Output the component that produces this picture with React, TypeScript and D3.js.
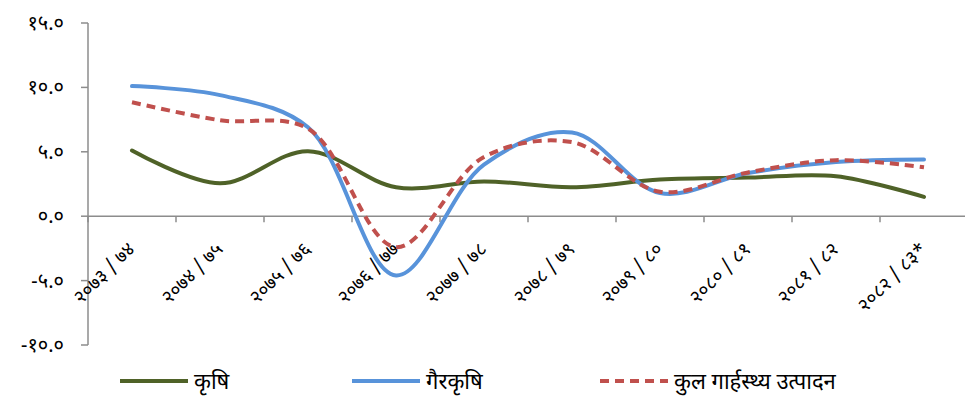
import * as d3 from "d3";

const years = [
  "२०७३ / ७४",
  "२०७४ / ७५",
  "२०७५ / ७६",
  "२०७६ / ७७",
  "२०७७ / ७८",
  "२०७८ / ७९",
  "२०७९ / ८०",
  "२०८० / ८१",
  "२०८१ / ८२",
  "२०८२ / ८३*",
];

const krishi = [5.1, 2.55, 5.05, 2.25, 2.7, 2.25, 2.85, 3.0, 3.1, 1.5];
const gairKrishi = [10.1, 9.4, 6.9, -4.6, 4.0, 6.5, 1.8, 3.35, 4.2, 4.4];
const kulGdp = [8.85, 7.45, 6.8, -2.4, 4.6, 5.75, 1.9, 3.4, 4.35, 3.8];

const yTicks = [-10, -5, 0, 5, 10, 15];
const yTickLabels = ["-१०.०", "-५.०", "०.०", "५.०", "१०.०", "१५.०"];

const series = [
  { name: "कृषि", values: krishi, color: "#4F6228", dash: "" },
  { name: "गैरकृषि", values: gairKrishi, color: "#5893DA", dash: "" },
  { name: "कुल गार्हस्थ्य उत्पादन", values: kulGdp, color: "#C0504D", dash: "9,6" },
];

const W = 965;
const H = 400;
const font = "'Noto Sans Devanagari', Mangal, Kalimati, 'Noto Sans', sans-serif";

export default function App() {
  const x = d3
    .scaleBand<string>()
    .domain(years)
    .range([88, 88 + 88 * years.length]);
  const y = d3.scaleLinear().domain([-10, 15]).range([345, 23]);

  const line = d3
    .line<number>()
    .curve(d3.curveCatmullRom.alpha(0.5))
    .x((_, i) => (x(years[i]) ?? 0) + x.bandwidth() / 2)
    .y((d) => y(d));

  const legendX = [120, 352, 600];

  return (
    <svg
      width={W}
      height={H}
      style={{ position: "absolute", left: 0, top: 0, fontFamily: font }}
    >
      <rect width={W} height={H} fill="#fff" />
      {/* y axis */}
      <line x1={88} x2={88} y1={y(15)} y2={y(-10)} stroke="#8c8c8c" strokeWidth={1.5} />
      {yTicks.map((t, i) => (
        <g key={t}>
          <line x1={81} x2={88} y1={y(t)} y2={y(t)} stroke="#8c8c8c" strokeWidth={1.5} />
          <text
            x={64}
            y={y(t)}
            dy="0.35em"
            textAnchor="end"
            fontSize={20}
            fill="#000"
          >
            {yTickLabels[i]}
          </text>
        </g>
      ))}
      {/* zero line with category ticks */}
      <line x1={88} x2={W} y1={y(0)} y2={y(0)} stroke="#8c8c8c" strokeWidth={1.5} />
      {years.map((yr) => (
        <line
          key={yr}
          x1={x(yr)}
          x2={x(yr)}
          y1={y(0)}
          y2={y(0) + 6}
          stroke="#8c8c8c"
          strokeWidth={1.5}
        />
      ))}
      {/* category labels */}
      {years.map((yr) => {
        const cx = (x(yr) ?? 0) + x.bandwidth() / 2 + 4;
        const cy = y(0) + 34;
        return (
          <text
            key={yr}
            transform={`translate(${cx},${cy}) rotate(-45)`}
            textAnchor="end"
            fontSize={19}
            fill="#000"
          >
            {yr}
          </text>
        );
      })}
      {/* series */}
      {series.map((s) => (
        <path
          key={s.name}
          d={line(s.values) ?? ""}
          fill="none"
          stroke={s.color}
          strokeWidth={4}
          strokeDasharray={s.dash || undefined}
          strokeLinecap={s.dash ? "butt" : "round"}
        />
      ))}
      {/* legend */}
      {series.map((s, i) => (
        <g key={s.name} transform={`translate(${legendX[i]},381)`}>
          <line
            x1={0}
            x2={68}
            y1={0}
            y2={0}
            stroke={s.color}
            strokeWidth={4}
            strokeDasharray={s.dash || undefined}
          />
          <text x={74} y={0} dy="0.35em" fontSize={22} fill="#000">
            {s.name}
          </text>
        </g>
      ))}
    </svg>
  );
}
